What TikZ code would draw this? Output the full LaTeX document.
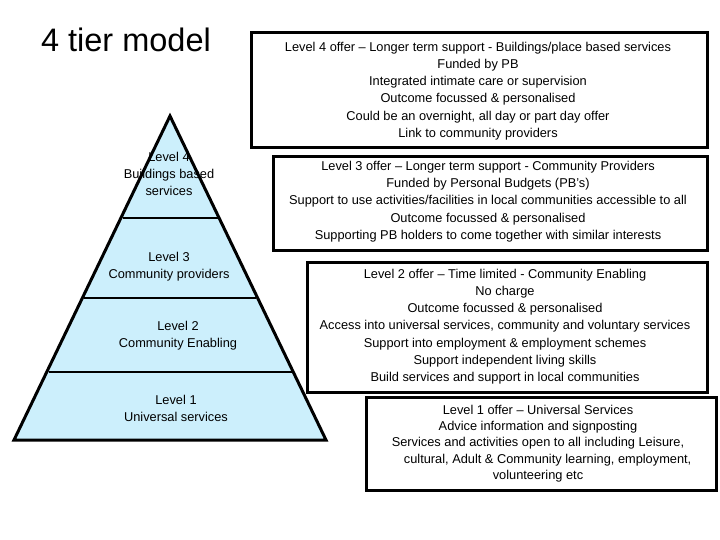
\documentclass[tikz,border=0pt]{standalone}
\usepackage{fontspec}
\setmainfont{Liberation Sans}
\begin{document}
\begin{tikzpicture}[x=1pt,y=-1pt,
  box/.style={draw=black,line width=3pt},
  txt/.style={align=center,font=\fontsize{12.8}{17.2}\selectfont,inner sep=0pt},
  pyr/.style={fill=cyan!20,draw=black,line width=3pt,line join=miter}]
\useasboundingbox (0,0) rectangle (720,540);
\node[font=\fontsize{32.5}{36}\selectfont,inner sep=0pt] (title) at (126,40) {4 tier model};
% pyramid
\coordinate (apex) at (170,116);
\coordinate (bl) at (14,440);
\coordinate (br) at (326,440);
\draw[pyr] (apex) -- (br) -- (bl) -- cycle;
\draw[line width=2.5pt] (122.5,218) -- (217.5,218);
\draw[line width=2.5pt] (84,298) -- (256,298);
\draw[line width=2.5pt] (48.5,372) -- (291.5,372);
\node[txt] (p4) at (169,174) {Level 4\\Buildings based\\services};
\node[txt] (p3) at (169,267) {Level 3\\Community providers};
\node[txt] (p2) at (178,335.5) {Level 2\\Community Enabling};
\node[txt] (p1) at (176,408.5) {Level 1\\Universal services};
% boxes
\draw[box] (251,33) rectangle (707,148);
\node[txt] (b4) at (478,91) {Level 4 offer -- Longer term support - Buildings/place based services\\Funded by PB\\Integrated intimate care or supervision\\Outcome focussed \& personalised\\Could be an overnight, all day or part day offer\\Link to community providers};
\draw[box] (273,157) rectangle (707,250);
\node[txt] (b3) at (488,201.5) {Level 3 offer -- Longer term support - Community Providers\\Funded by Personal Budgets (PB’s)\\Support to use activities/facilities in local communities accessible to all\\Outcome focussed \& personalised\\Supporting PB holders to come together with similar interests};
\draw[box] (307,262) rectangle (707,392);
\node[txt] (b2) at (505,326.5) {Level 2 offer -- Time limited - Community Enabling\\No charge\\Outcome focussed \& personalised\\Access into universal services, community and voluntary services\\Support into employment \& employment schemes\\Support independent living skills\\Build services and support in local communities};
\draw[box] (366,397) rectangle (716,490);
\node[txt,font=\fontsize{12.8}{16.2}\selectfont] (b1) at (538,443.5) {Level 1 offer -- Universal Services\\Advice information and signposting\\Services and activities open to all including Leisure,\\\hspace*{1.5em}cultural, Adult \& Community learning, employment,\\volunteering etc};
\end{tikzpicture}
\end{document}
